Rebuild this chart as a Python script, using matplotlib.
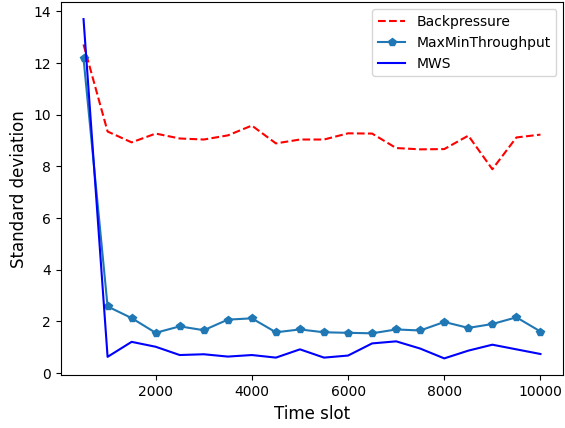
import matplotlib
matplotlib.use('Agg')
import matplotlib.pyplot as plt
import numpy as np

# time slots at which the std deviation was sampled
time_slots = np.arange(500, 10001, 500)

backpressure = [12.72, 9.35, 8.93, 9.27, 9.08, 9.04, 9.20, 9.58, 8.89, 9.04,
                9.04, 9.28, 9.27, 8.71, 8.66, 8.67, 9.19, 7.89, 9.12, 9.23]
maxmin = [12.18, 2.58, 2.13, 1.56, 1.81, 1.66, 2.07, 2.12, 1.58, 1.69,
          1.58, 1.56, 1.54, 1.69, 1.65, 1.98, 1.75, 1.90, 2.16, 1.61]
mws = [13.70, 0.63, 1.21, 1.02, 0.70, 0.73, 0.64, 0.70, 0.60, 0.92,
       0.60, 0.68, 1.15, 1.23, 0.95, 0.57, 0.87, 1.10, 0.92, 0.74]

fig, ax = plt.subplots(figsize=(5.65, 4.28), dpi=100)
fig.subplots_adjust(left=0.1074, right=0.997, bottom=0.123, top=0.995)

ax.plot(time_slots, backpressure, 'r--', label='Backpressure')
ax.plot(time_slots, maxmin, marker='p', color='#1f77b4', label='MaxMinThroughput')
ax.plot(time_slots, mws, 'b-', label='MWS')

ax.set_xlabel('Time slot', fontsize=12)
ax.set_ylabel('Standard deviation', fontsize=12)
ax.legend(loc='upper right')

plt.savefig('out.png', dpi=100)
